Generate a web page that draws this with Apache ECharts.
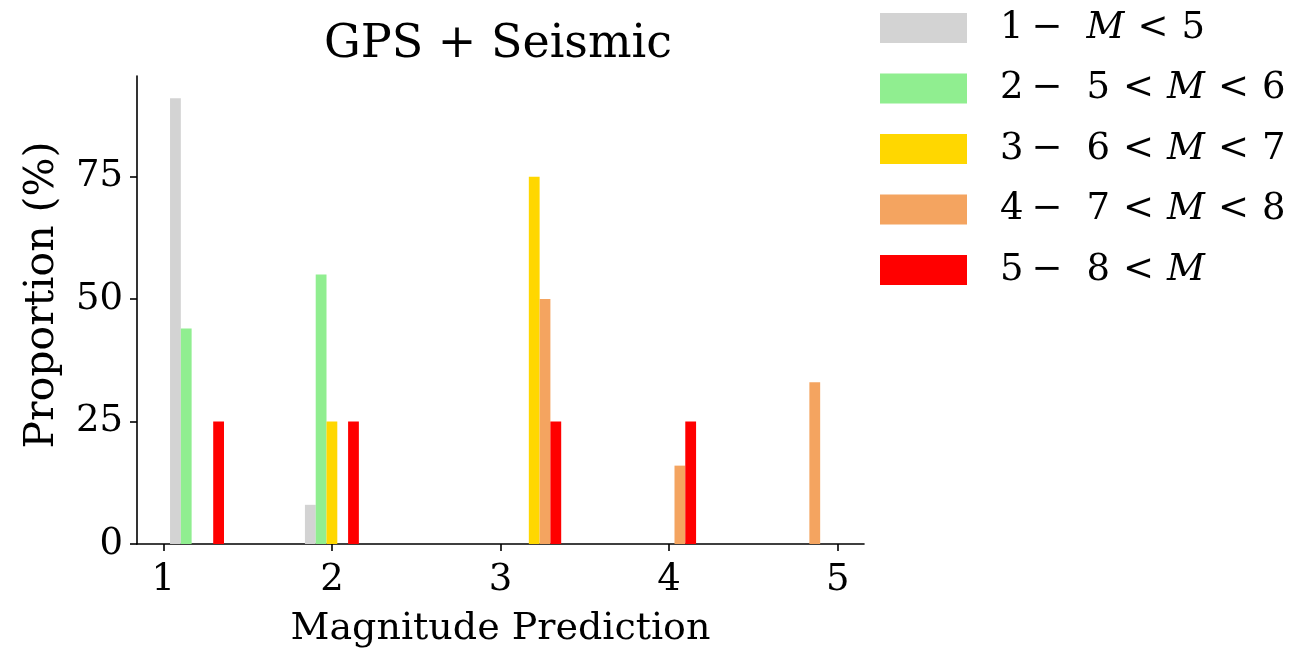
<!DOCTYPE html>
<html><head><meta charset="utf-8">
<script src="https://cdn.jsdelivr.net/npm/echarts@6/dist/echarts.min.js"></script>
<style>html,body{margin:0;padding:0;background:#fff}#c{width:1292px;height:653px}</style>
</head><body><div id="c"></div>
<script>
// Histogram bin edges (Magnitude Prediction)
const binEdges = [1.0, 1.4, 1.8, 2.2, 2.6, 3.0, 3.4, 3.8, 4.2, 4.6, 5.0];
const seriesNames = ['1 − M < 5', '2 − 5 < M < 6', '3 − 6 < M < 7', '4 − 7 < M < 8', '5 − 8 < M'];
const seriesColors = ['#d3d3d3', '#90ee90', '#ffd700', '#f4a460', '#ff0000'];
// Proportion (%) per bin for each true-magnitude class
const vals1 = [91, 0, 8, 0, 0, 0, 0, 0, 0, 0];
const vals2 = [44, 0, 55, 0, 0, 0, 0, 0, 0, 0];
const vals3 = [0, 0, 25, 0, 0, 75, 0, 0, 0, 0];
const vals4 = [0, 0, 0, 0, 0, 50, 0, 16, 0, 33];
const vals5 = [25, 0, 25, 0, 0, 25, 0, 25, 0, 0];
const xTicks = [1, 2, 3, 4, 5];
const yTicks = [0, 25, 50, 75];
const allVals = [vals1, vals2, vals3, vals4, vals5];

const FONT = 'DejaVu Serif';
const rwidth = 0.8;
const nS = allVals.length;
// matplotlib-style auto limits (5% margins)
const xLo = binEdges[0] + (1 - rwidth) / 2 * (binEdges[1] - binEdges[0]);
const xHi = binEdges[binEdges.length - 1] - (1 - rwidth) / 2 * (binEdges[1] - binEdges[0]);
const xPad = (xHi - xLo) * 0.05;
const yMax = Math.max(...allVals.flat()) * 1.05;

function renderItem(params, api) {
  const left = api.value(0), right = api.value(2), v = api.value(1);
  const k = params.seriesIndex;
  const bw = right - left;
  const barW = rwidth * bw / nS;
  const x0 = left + (1 - rwidth) / 2 * bw + k * barW;
  const p0 = api.coord([x0, v]);
  const p1 = api.coord([x0 + barW, 0]);
  return {
    type: 'rect',
    shape: { x: p0[0], y: p0[1], width: p1[0] - p0[0], height: p1[1] - p0[1] },
    style: { fill: seriesColors[k] }
  };
}

const series = allVals.map((vals, k) => ({
  name: seriesNames[k],
  type: 'custom',
  renderItem: renderItem,
  itemStyle: { color: seriesColors[k] },
  encode: { x: [0, 2], y: 1 },
  data: vals.map((v, i) => [binEdges[i], v, binEdges[i + 1]]).filter(d => d[1] > 0)
}));

function legendFmt(name) {
  const idx = name.indexOf(' − ');
  const num = name.slice(0, idx);
  const rest = name.slice(idx + 3).split(' < ').join('{b| }<{b| }').replace('M', '{i|M}');
  return '{g| }' + num + '{a| }−{s| }' + rest;
}

const LS = 37;
const chart = echarts.init(document.getElementById('c'));
chart.setOption({
  animation: false,
  backgroundColor: '#fff',
  title: {
    text: 'GPS + Seismic',
    left: 498, top: 22, textAlign: 'center', padding: 0,
    textStyle: { fontFamily: FONT, fontSize: 46, fontWeight: 'normal', color: '#000' }
  },
  legend: {
    orient: 'vertical', left: 880, top: 6, padding: 0,
    itemWidth: 87, itemHeight: 30, itemGap: 16.5,
    icon: 'rect',
    formatter: legendFmt,
    textStyle: {
      fontFamily: FONT, fontSize: LS, color: '#000', lineHeight: 44,
      rich: {
        g: { width: 28, fontFamily: FONT, fontSize: LS, lineHeight: 44 },
        a: { width: 8, fontFamily: FONT, fontSize: LS, lineHeight: 44 },
        s: { width: 24, fontFamily: FONT, fontSize: LS, lineHeight: 44 },
        b: { width: 13, fontFamily: FONT, fontSize: LS, lineHeight: 44 },
        i: { fontStyle: 'italic', fontFamily: FONT, fontSize: LS, color: '#000', lineHeight: 44 }
      }
    },
    data: seriesNames
  },
  grid: { left: 137, right: 428, top: 76, bottom: 107 },
  xAxis: {
    type: 'value', min: xLo - xPad, max: xHi + xPad,
    name: 'Magnitude Prediction', nameLocation: 'middle', nameGap: 66,
    nameTextStyle: { fontFamily: FONT, fontSize: 38, color: '#000' },
    axisLine: { show: true, onZero: false, lineStyle: { color: '#000', width: 1.6 } },
    axisTick: { show: true, length: 7, customValues: xTicks, lineStyle: { color: '#000', width: 1.6 } },
    axisLabel: { customValues: xTicks, fontFamily: FONT, fontSize: 37, color: '#000', margin: 18 },
    splitLine: { show: false }
  },
  yAxis: {
    type: 'value', min: 0, max: yMax,
    name: 'Proportion (%)', nameLocation: 'middle', nameGap: 74, nameRotate: 90,
    nameTextStyle: { fontFamily: FONT, fontSize: 41, color: '#000', padding: [0, 0, 0, 30] },
    axisLine: { show: true, lineStyle: { color: '#000', width: 1.6 } },
    axisTick: { show: true, length: 7, customValues: yTicks, lineStyle: { color: '#000', width: 1.6 } },
    axisLabel: { customValues: yTicks, fontFamily: FONT, fontSize: 37, color: '#000', margin: 14 },
    splitLine: { show: false }
  },
  series: series
});
</script></body></html>
